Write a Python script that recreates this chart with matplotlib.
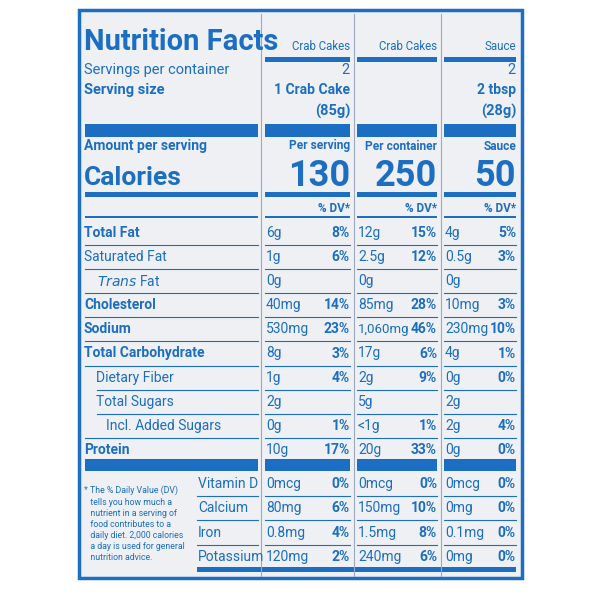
import matplotlib.pyplot as plt
from matplotlib.patches import Rectangle

BLUE = '#1c6ec2'
BG = '#eef0f3'
FONT = ['Roboto', 'Liberation Sans', 'DejaVu Sans']

col_titles = ['Crab Cakes', 'Crab Cakes', 'Sauce']
servings = ['2', '', '2']
serving_size = [('1 Crab Cake', '(85g)'), ('', ''), ('2 tbsp', '(28g)')]
amount_heads = ['Per serving', 'Per container', 'Sauce']
calories = ['130', '250', '50']

# (label, indent, bold)
nutrients = [('Total Fat', 0, True), ('Saturated Fat', 0, False), ('Trans Fat', 13, False),
             ('Cholesterol', 0, True), ('Sodium', 0, True), ('Total Carbohydrate', 0, True),
             ('Dietary Fiber', 12, False), ('Total Sugars', 12, False),
             ('Incl. Added Sugars', 22, False), ('Protein', 0, True)]
amounts = [['6g', '1g', '0g', '40mg', '530mg', '8g', '1g', '2g', '0g', '10g'],
           ['12g', '2.5g', '0g', '85mg', '1,060mg', '17g', '2g', '5g', '<1g', '20g'],
           ['4g', '0.5g', '0g', '10mg', '230mg', '4g', '0g', '2g', '2g', '0g']]
dvs = [['8%', '6%', '', '14%', '23%', '3%', '4%', '', '1%', '17%'],
       ['15%', '12%', '', '28%', '46%', '6%', '9%', '', '1%', '33%'],
       ['5%', '3%', '', '3%', '10%', '1%', '0%', '', '4%', '0%']]
vitamins = ['Vitamin D', 'Calcium', 'Iron', 'Potassium']
vit_amounts = [['0mcg', '80mg', '0.8mg', '120mg'],
               ['0mcg', '150mg', '1.5mg', '240mg'],
               ['0mcg', '0mg', '0.1mg', '0mg']]
vit_dvs = [['0%', '6%', '4%', '2%'], ['0%', '10%', '8%', '6%'], ['0%', '0%', '0%', '0%']]
footnote = ('* The % Daily Value (DV)\n   tells you how much a\n   nutrient in a serving of\n'
            '   food contributes to a\n   daily diet. 2,000 calories\n   a day is used for general\n'
            '   nutrition advice.')

fig = plt.figure(figsize=(6, 6), dpi=100)
ax = fig.add_axes([0, 0, 1, 1])
ax.set_xlim(0, 600)
ax.set_ylim(600, 0)
ax.axis('off')

ax.add_patch(Rectangle((79, 10), 443, 568, facecolor=BG, edgecolor=BLUE, lw=2.5))

cols = [(265, 350), (357, 437), (444, 516)]
label_col = (85, 258)
for x in (261, 353.5, 440.5):
    ax.plot([x, x], [14, 576], color='#9aa8c0', lw=0.8)

def bar(y0, y1, spans):
    for a, b in spans:
        ax.add_patch(Rectangle((a, y0), b - a, y1 - y0, facecolor=BLUE, edgecolor='none'))

def t(x, y, s, size=10, ha='left', weight='normal', **kw):
    ax.text(x, y, s, fontsize=size, ha=ha, va='center', color=BLUE, weight=weight,
            family=FONT, **kw)

t(84, 42, 'Nutrition Facts', 21, weight='bold')
t(84, 70, 'Servings per container', 10.5)
t(84, 90, 'Serving size', 10.5, weight='bold')
for i, (a, b) in enumerate(cols):
    t(b, 47, col_titles[i], 8.3, ha='right')
    t(b, 70, servings[i], 10.5, ha='right')
    t(b, 90, serving_size[i][0], 10, ha='right', weight='bold')
    t(b, 111, serving_size[i][1], 10.5, ha='right', weight='bold')
    t(b, 146, amount_heads[i], 8.6, ha='right', weight='bold')
    t(b, 176, calories[i], 26, ha='right', weight='bold')
    t(b, 209, '% DV*', 8.5, ha='right', weight='bold')
bar(57, 62, cols)
bar(124, 137, [label_col] + cols)
t(84, 146, 'Amount per serving', 10, weight='bold')
t(84, 178, 'Calories', 19, weight='bold')
bar(192, 197, [label_col] + cols)
bar(216, 218, [label_col] + cols)

y0, dy = 233, 24.1
for r, (name, ind, bold) in enumerate(nutrients):
    y = y0 + r * dy
    w = 'bold' if bold else 'normal'
    if name == 'Trans Fat':
        t(84 + ind, y, r'$\it{Trans}$ Fat', 10)
    else:
        t(84 + ind, y, name, 10, weight=w)
    for c, (a, b) in enumerate(cols):
        t(a + 1, y, amounts[c][r], 9.5 if len(amounts[c][r]) > 5 else 10)
        t(b, y, dvs[c][r], 10, ha='right', weight='bold')
    if r < len(nutrients) - 1:
        for a, b in [label_col] + cols:
            xa = a + ind if (a == 85 and nutrients[r + 1][1]) else a
            ax.plot([xa, b], [y + dy / 2, y + dy / 2], color=BLUE, lw=0.8)
bar(459, 471, [label_col] + cols)

vy0, vdy = 484, 24.3
for r, name in enumerate(vitamins):
    y = vy0 + r * vdy
    t(198, y, name, 10)
    for c, (a, b) in enumerate(cols):
        t(a + 1, y, vit_amounts[c][r], 10)
        t(b, y, vit_dvs[c][r], 10, ha='right', weight='bold')
    if r < 3:
        for a, b in [(197, 258)] + cols:
            ax.plot([a, b], [y + vdy / 2, y + vdy / 2], color=BLUE, lw=0.8)
bar(567, 572, [(197, 516)])
ax.text(84, 524, footnote, fontsize=6.3, ha='left', va='center', color=BLUE,
        family=FONT, linespacing=1.3)

fig.savefig('out.png', dpi=100, facecolor='white')
